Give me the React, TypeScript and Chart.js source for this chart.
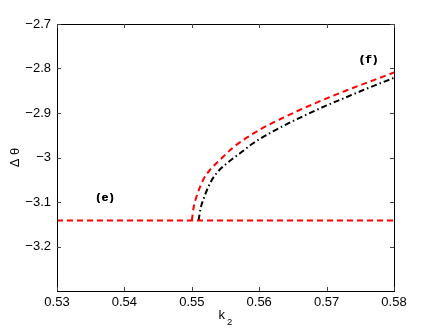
import React, { useEffect, useRef } from "react";
import { Chart, registerables } from "chart.js";

Chart.register(...registerables);

const xTicks = [0.53, 0.54, 0.55, 0.56, 0.57, 0.58];
const yTicks = [-2.7, -2.8, -2.9, -3.0, -3.1, -3.2];

const baseX = [0.53, 0.58];
const baseY = [-3.1416, -3.1416];

const redX = [0.55, 0.5503, 0.5507, 0.5517, 0.5527, 0.5542, 0.5561, 0.5581, 0.5606, 0.5631, 0.5656, 0.568, 0.5705, 0.573, 0.5754, 0.5779, 0.58];
const redY = [-3.1416, -3.11, -3.088, -3.05, -3.028, -3.005, -2.978, -2.956, -2.933, -2.914, -2.896, -2.88, -2.864, -2.849, -2.835, -2.821, -2.809];

const blackX = [0.551, 0.5513, 0.5517, 0.5527, 0.5537, 0.5552, 0.5572, 0.5591, 0.5616, 0.5641, 0.5671, 0.57, 0.573, 0.576, 0.58];
const blackY = [-3.1416, -3.115, -3.095, -3.058, -3.035, -3.013, -2.99, -2.968, -2.945, -2.925, -2.903, -2.883, -2.864, -2.845, -2.821];

const annotations = [
  { text: "(e)", x: 0.5371, y: -3.092 },
  { text: "(f)", x: 0.5762, y: -2.782 },
];

const fmt = (v: number, d: number) => {
  const s = Number(v.toFixed(d)).toString();
  return s.replace("-", "\u2212");
};

const zip = (xs: number[], ys: number[]) => xs.map((x, i) => ({ x, y: ys[i] }));

const framePlugin = {
  id: "frame",
  afterDatasetsDraw(chart: any) {
    const { ctx, chartArea: a, scales } = chart;
    const xs = scales.x;
    const ys = scales.y;
    ctx.save();
    ctx.strokeStyle = "#000";
    ctx.lineWidth = 1;
    ctx.strokeRect(Math.round(a.left) + 0.5, Math.round(a.top) + 0.5, Math.round(a.right - a.left), Math.round(a.bottom - a.top));
    const tl = 4;
    ctx.strokeStyle = "#444";
    ctx.beginPath();
    xTicks.forEach((t) => {
      const px = Math.round(xs.getPixelForValue(t)) + 0.5;
      ctx.moveTo(px, a.bottom);
      ctx.lineTo(px, a.bottom - tl);
      ctx.moveTo(px, a.top);
      ctx.lineTo(px, a.top + tl);
    });
    yTicks.forEach((t) => {
      const py = Math.round(ys.getPixelForValue(t)) + 0.5;
      ctx.moveTo(a.left, py);
      ctx.lineTo(a.left + tl, py);
      ctx.moveTo(a.right, py);
      ctx.lineTo(a.right - tl, py);
    });
    ctx.stroke();

    // annotations
    ctx.fillStyle = "#000";
    ctx.font = "bold 11px 'Liberation Mono'";
    ctx.textAlign = "center";
    ctx.textBaseline = "middle";
    annotations.forEach((an) => {
      const px = xs.getPixelForValue(an.x);
      const py = ys.getPixelForValue(an.y);
      ctx.fillText(an.text, px, py);
      ctx.fillText(an.text, px + 0.4, py);
    });

    // x label k_2
    ctx.textBaseline = "alphabetic";
    ctx.textAlign = "left";
    ctx.font = "13px 'Liberation Sans'";
    const cx = (a.left + a.right) / 2;
    ctx.fillText("k", cx - 7, 318.5);
    ctx.font = "9.5px 'Liberation Sans'";
    ctx.fillText("2", cx + 1.5, 325);

    // y label
    ctx.save();
    ctx.translate(15, (a.top + a.bottom) / 2);
    ctx.rotate(-Math.PI / 2);
    ctx.font = "13px 'Liberation Sans'";
    ctx.textAlign = "center";
    ctx.textBaseline = "middle";
    ctx.fillText("\u0394 \u03b8", 0, 0);
    ctx.restore();
    ctx.restore();
  },
};

export default function App() {
  const ref = useRef<HTMLCanvasElement>(null);
  useEffect(() => {
    if (!ref.current) return;
    const chart = new Chart(ref.current, {
      type: "line",
      data: {
        datasets: [
          {
            data: zip(baseX, baseY),
            borderColor: "#ff0000",
            borderWidth: 2,
            borderDash: [6, 4],
            pointRadius: 0,
            fill: false,
            order: 0,
          },
          {
            data: zip(redX, redY),
            borderColor: "#ff0000",
            borderWidth: 2,
            borderDash: [6, 4],
            pointRadius: 0,
            fill: false,
            cubicInterpolationMode: "monotone",
            order: 1,
          },
          {
            data: zip(blackX, blackY),
            borderColor: "#000000",
            borderWidth: 2,
            borderDash: [6, 3, 1.5, 3],
            pointRadius: 0,
            fill: false,
            cubicInterpolationMode: "monotone",
            order: 2,
          },
        ],
      },
      options: {
        animation: false,
        responsive: false,
        maintainAspectRatio: false,
        layout: { padding: { left: 0, top: 24, right: 42, bottom: 0 } },
        plugins: { legend: { display: false }, tooltip: { enabled: false } },
        scales: {
          x: {
            type: "linear",
            min: 0.53,
            max: 0.58,
            afterFit: (s: any) => {
              s.height = 37;
            },
            afterBuildTicks: (s: any) => {
              s.ticks = xTicks.map((v) => ({ value: v }));
            },
            ticks: {
              padding: 4,
              color: "#000",
              font: { family: "'Liberation Sans'", size: 13 },
              callback: (v: any) => fmt(Number(v), 2),
              maxRotation: 0,
              autoSkip: false,
            },
            grid: { display: false, drawTicks: false },
            border: { display: false },
          },
          y: {
            type: "linear",
            min: -3.3,
            max: -2.7,
            afterFit: (s: any) => {
              s.width = 57;
            },
            afterBuildTicks: (s: any) => {
              s.ticks = yTicks.map((v) => ({ value: v }));
            },
            ticks: {
              padding: 6,
              color: "#000",
              font: { family: "'Liberation Sans'", size: 13 },
              callback: (v: any) => fmt(Number(v), 1),
              autoSkip: false,
            },
            grid: { display: false, drawTicks: false },
            border: { display: false },
          },
        },
      },
      plugins: [framePlugin],
    } as any);
    return () => chart.destroy();
  }, []);
  return (
    <div style={{ position: "absolute", left: 0, top: 0, width: 436, height: 328, background: "#fff" }}>
      <canvas ref={ref} width={436} height={328} style={{ display: "block" }} />
    </div>
  );
}
